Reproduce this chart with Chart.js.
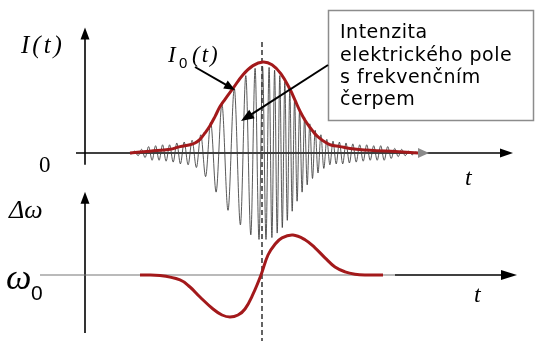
<!DOCTYPE html>
<html>
<head>
<meta charset="utf-8">
<script src="https://cdn.jsdelivr.net/npm/chart.js@4/dist/chart.umd.min.js"></script>
<style>
  html, body { margin: 0; padding: 0; background: #fff; }
  canvas { display: block; }
</style>
</head>
<body>
<canvas id="pulse" width="535" height="341"></canvas>
<script>
// Time in arbitrary units, pulse centre at t = 0.

// Intensity envelope I0(t), normalised to its peak.
const envelopeT = [-13.2, -11.2, -9.2, -8.2, -7.2, -6.7, -6.2, -5.7, -5.2, -4.7, -4.2, -3.7, -2.9, -1.9, -0.9, 0.1, 1.0, 1.9, 2.8, 3.3, 3.8, 4.3, 4.8, 5.3, 5.8, 6.3, 6.8, 7.8, 8.8, 10.8, 13.3, 15.6];
const envelopeI = [0, 0.02, 0.04, 0.07, 0.09, 0.11, 0.15, 0.22, 0.30, 0.40, 0.51, 0.59, 0.71, 0.86, 0.96, 1.0, 0.97, 0.87, 0.70, 0.58, 0.46, 0.36, 0.28, 0.21, 0.16, 0.12, 0.09, 0.07, 0.05, 0.03, 0.015, 0];

// Chirped field: turning points (alternating troughs and crests).
const fieldT = [-13.3,
  -13.09, -12.74, -12.39, -12.04, -11.69, -11.34, -10.99, -10.64, -10.29, -9.94, -9.59, -9.24, -8.88, -8.52, -8.16, -7.78, -7.39, -6.99, -6.56, -6.12, -5.64, -5.13, -4.59, -4.01, -3.40, -2.77, -2.16, -1.62, -1.12, -0.69, -0.30,
  0.06, 0.40, 0.71, 0.99, 1.26, 1.52, 1.78, 2.03, 2.28, 2.53, 2.78, 3.02, 3.26, 3.51, 3.76, 4.01, 4.26, 4.52, 4.78, 5.05, 5.32, 5.60, 5.89, 6.18, 6.48, 6.79, 7.10, 7.42, 7.74, 8.07, 8.40, 8.74, 9.08, 9.42, 9.77, 10.12, 10.47, 10.82, 11.17, 11.52, 11.87, 12.22, 12.57, 12.92, 13.27, 13.62, 13.97, 14.32, 14.67, 15.02, 15.37,
  15.6];
const fieldE = [0,
  -0.01, 0.02, -0.03, 0.04, -0.05, 0.07, -0.08, 0.08, -0.08, 0.09, -0.09, 0.09, -0.10, 0.11, -0.12, 0.12, -0.13, 0.14, -0.16, 0.20, -0.26, 0.34, -0.43, 0.54, -0.63, 0.71, -0.79, 0.85, -0.90, 0.93, -0.95,
  0.95, -0.95, 0.94, -0.93, 0.91, -0.88, 0.85, -0.82, 0.78, -0.74, 0.69, -0.64, 0.59, -0.53, 0.47, -0.43, 0.39, -0.35, 0.32, -0.28, 0.25, -0.22, 0.20, -0.17, 0.15, -0.13, 0.13, -0.12, 0.12, -0.12, 0.11, -0.11, 0.10, -0.10, 0.09, -0.09, 0.09, -0.08, 0.08, -0.08, 0.08, -0.08, 0.07, -0.06, 0.05, -0.04, 0.04, -0.03, 0.02, -0.02, 0.01,
  0];

// Instantaneous frequency shift Δω(t), normalised to its maximum.
const chirpT = [-12.2, -10.2, -8.2, -7.2, -6.2, -4.9, -4.0, -3.2, -2.4, -1.7, -0.9, -0.1, 0.6, 1.3, 2.0, 3.1, 4.3, 5.3, 6.3, 7.3, 8.3, 9.3, 10.3, 12.1];
const chirpW = [0, -0.01, -0.12, -0.30, -0.55, -0.85, -1.0, -1.05, -1.0, -0.85, -0.48, 0, 0.5, 0.77, 0.93, 1.0, 0.88, 0.68, 0.43, 0.20, 0.08, 0.02, 0, 0];

// Callout text
const calloutLines = ['Intenzita', 'elektrického pole', 's frekvenčním', 'čerpem'];

const RED = '#a3191b';
const pts = (xs, ys) => xs.map((t, i) => ({ x: t, y: ys[i] }));

function line(ctx, x1, y1, x2, y2) {
  ctx.beginPath(); ctx.moveTo(x1, y1); ctx.lineTo(x2, y2); ctx.stroke();
}
function arrowHead(ctx, fx, fy, tx, ty, len, half) {
  const a = Math.atan2(ty - fy, tx - fx);
  const bx = tx - len * Math.cos(a), by = ty - len * Math.sin(a);
  ctx.beginPath();
  ctx.moveTo(tx, ty);
  ctx.lineTo(bx + half * Math.sin(a), by - half * Math.cos(a));
  ctx.lineTo(bx - half * Math.sin(a), by + half * Math.cos(a));
  ctx.closePath(); ctx.fill();
}
function arrow(ctx, fx, fy, tx, ty, len, half) {
  const a = Math.atan2(ty - fy, tx - fx);
  line(ctx, fx, fy, tx - (len * 0.7) * Math.cos(a), ty - (len * 0.7) * Math.sin(a));
  arrowHead(ctx, fx, fy, tx, ty, len, half);
}
function spaced(ctx, text, x, y, gap) {
  for (const ch of text) { ctx.fillText(ch, x, y); x += ctx.measureText(ch).width + gap; }
  return x;
}

// Axes, centre marker, labels and callout
const sketch = {
  id: 'sketch',
  beforeDatasetsDraw(chart) {
    const { ctx, scales: { x, yI, yW } } = chart;
    const ax = x.getPixelForValue(-17.7);
    const c = x.getPixelForValue(0);
    const y0 = yI.getPixelForValue(0);
    const w0 = yW.getPixelForValue(0);
    ctx.save();
    // dashed line through the pulse centre
    ctx.strokeStyle = '#111'; ctx.lineWidth = 1.3;
    ctx.setLineDash([5, 3]);
    line(ctx, c, 42, c, 341);
    ctx.setLineDash([]);

    ctx.strokeStyle = '#000'; ctx.fillStyle = '#000'; ctx.lineWidth = 1.6;
    // upper panel: I(t) axis and time axis
    arrow(ctx, ax, yI.getPixelForValue(-0.13), ax, yI.getPixelForValue(1.38), 12, 4.5);
    arrow(ctx, x.getPixelForValue(-18.6), y0, x.getPixelForValue(25.1), y0, 13, 4.5);
    // lower panel: Δω axis and ω0 line
    arrow(ctx, ax, yW.getPixelForValue(-1.45), ax, yW.getPixelForValue(2.08), 12, 4.5);
    ctx.strokeStyle = '#777'; ctx.lineWidth = 1.2;
    line(ctx, x.getPixelForValue(-22.2), w0, x.getPixelForValue(13.3), w0);
    ctx.strokeStyle = '#000'; ctx.lineWidth = 1.6;
    arrow(ctx, x.getPixelForValue(13.3), w0, x.getPixelForValue(25.5), w0, 16, 5);
    ctx.restore();
  },
  afterDatasetsDraw(chart) {
    const { ctx, scales: { x, yI } } = chart;
    const y0 = yI.getPixelForValue(0);
    ctx.save();
    // grey arrow tip at the end of the envelope trace
    ctx.fillStyle = '#8a8a8a';
    arrowHead(ctx, 400, y0, x.getPixelForValue(16.7), y0, 11, 5);

    ctx.fillStyle = '#000';
    ctx.textBaseline = 'alphabetic';
    ctx.font = 'italic 25px "Liberation Serif"';
    spaced(ctx, 'I(t)', 21, 53, 3);
    // I0(t) label
    ctx.font = 'italic 23px "Liberation Serif"';
    ctx.fillText('I', 168, 62);
    ctx.font = '15px "Liberation Sans"';
    ctx.fillText('0', 179, 68);
    ctx.font = 'italic 23px "Liberation Serif"';
    spaced(ctx, '(t)', 192, 62, 2);
    ctx.font = '23px "Liberation Serif"';
    ctx.fillText('0', 39, 172);
    ctx.font = 'italic 26px "Liberation Serif"';
    ctx.fillText('Δω', 9, 218);
    ctx.font = 'italic 36px "Liberation Serif"';
    ctx.fillText('ω', 6, 289);
    ctx.font = '21px "Liberation Sans"';
    ctx.fillText('0', 31, 300);
    ctx.font = 'italic 24px "Liberation Serif"';
    ctx.fillText('t', 465, 185);
    ctx.fillText('t', 474, 302);

    // arrow from the I0(t) label to the envelope
    ctx.strokeStyle = '#000'; ctx.lineWidth = 2;
    arrow(ctx, 195, 67, 235, 90, 11, 4.5);

    // callout box
    ctx.strokeStyle = '#8c8c8c'; ctx.lineWidth = 1.5;
    ctx.strokeRect(328.5, 10.5, 205, 110);
    ctx.font = '19px "DejaVu Sans"';
    ctx.fillStyle = '#000';
    const base = [38, 61, 83, 105];
    calloutLines.forEach((s, i) => spaced(ctx, s, 340, base[i], 0.5));
    ctx.strokeStyle = '#000'; ctx.lineWidth = 2;
    arrow(ctx, 328, 65, 241, 121, 13, 5);
    ctx.restore();
  }
};

new Chart(document.getElementById('pulse'), {
  type: 'line',
  data: {
    datasets: [
      {
        data: pts(envelopeT, envelopeI), yAxisID: 'yI', order: 1,
        borderColor: RED, borderWidth: 3, pointRadius: 0,
        tension: 0.4, fill: false
      },
      {
        data: pts(fieldT, fieldE), yAxisID: 'yI', order: 3,
        borderColor: 'rgba(60,60,60,0.85)', borderWidth: 1, pointRadius: 0,
        cubicInterpolationMode: 'monotone', fill: false
      },
      {
        data: pts(chirpT, chirpW), yAxisID: 'yW', order: 1,
        borderColor: RED, borderWidth: 3, pointRadius: 0,
        tension: 0.4, fill: false
      }
    ]
  },
  options: {
    responsive: false,
    animation: false,
    events: [],
    layout: { padding: 0 },
    plugins: { legend: { display: false }, tooltip: { enabled: false } },
    scales: {
      x: { type: 'linear', min: -26.2, max: 27.3, display: false },
      yI: { type: 'linear', min: -2.066, max: 1.681, display: false },
      yW: { type: 'linear', min: -1.65, max: 6.875, display: false }
    }
  },
  plugins: [sketch]
});
</script>
</body>
</html>
